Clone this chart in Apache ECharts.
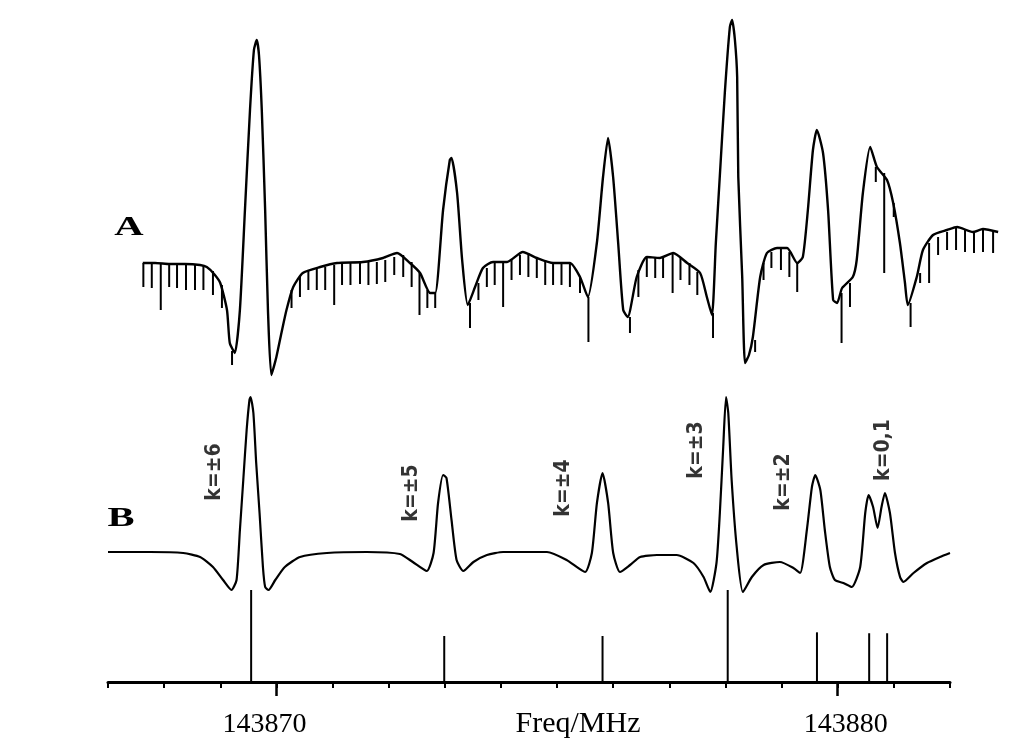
<!DOCTYPE html>
<html>
<head>
<meta charset="utf-8">
<script src="https://cdn.jsdelivr.net/npm/echarts@6/dist/echarts.min.js"></script>
<style>
  html, body { margin: 0; padding: 0; background: #fff; }
  #chart { width: 1024px; height: 754px; }
</style>
</head>
<body>
<div id="chart"></div>
<script>
    // trace A (measured)
    var aFreq = [143867.62, 143867.84, 143868.10, 143868.37, 143868.64, 143868.76, 143868.89, 143869.00, 143869.12, 143869.17,
        143869.26, 143869.35, 143869.44, 143869.53, 143869.60, 143869.65, 143869.69, 143869.74, 143869.80, 143869.85,
        143869.91, 143870.00, 143870.09, 143870.18, 143870.30, 143870.47, 143870.78, 143871.08, 143871.54, 143871.90,
        143872.15, 143872.38, 143872.56, 143872.74, 143872.83, 143872.97, 143873.09, 143873.12, 143873.22, 143873.31,
        143873.41, 143873.54, 143873.68, 143873.86, 143874.11, 143874.39, 143874.64, 143874.93, 143875.23, 143875.41,
        143875.55, 143875.71, 143875.82, 143875.91, 143876.00, 143876.09, 143876.18, 143876.26, 143876.42, 143876.60,
        143876.83, 143877.07, 143877.32, 143877.55, 143877.67, 143877.76, 143877.83, 143877.90, 143877.99, 143878.08,
        143878.12, 143878.17, 143878.21, 143878.23, 143878.30, 143878.35, 143878.42, 143878.49, 143878.62, 143878.74,
        143878.92, 143879.10, 143879.28, 143879.38, 143879.47, 143879.56, 143879.63, 143879.74, 143879.83, 143879.92,
        143879.99, 143880.08, 143880.27, 143880.34, 143880.45, 143880.58, 143880.70, 143880.88, 143880.99, 143881.11,
        143881.20, 143881.25, 143881.41, 143881.52, 143881.70, 143881.95, 143882.13, 143882.41, 143882.59, 143882.86];
    var aInt = [0, 0, -1, -1, -2, -4, -11, -20, -47, -80,
        -90, -47, 53, 153, 213, 223, 208, 153, 53, -47,
        -112, -94, -70, -47, -24, -10, -4, 0, 1, 5,
        10, 0, -10, -30, -30, 53, 103, 105, 70, 3,
        -42, -24, -5, 1, 1, 11, 5, 0, 0, -14,
        -34, 20, 86, 125, 86, 20, -47, -54, -14, 6,
        5, 10, 0, -10, -34, -52, 20, 86, 170, 236,
        243, 223, 186, 86, -14, -100, -92, -74, -14, 10,
        15, 15, 0, 6, 53, 113, 133, 110, 53, -37,
        -40, -25, -14, 3, 70, 116, 96, 83, 60, 20,
        -20, -42, -14, 13, 28, 33, 36, 31, 34, 31];

    // the vertical noise spikes hanging from trace A
    var hairFreq = [143867.63, 143867.78, 143867.94, 143868.09, 143868.23, 143868.39, 143868.55, 143868.70, 143868.87, 143869.03,
        143869.21, 143870.27, 143870.42, 143870.57, 143870.72, 143870.87, 143871.03, 143871.17, 143871.32, 143871.49,
        143871.64, 143871.79, 143871.94, 143872.10, 143872.26, 143872.41, 143872.55, 143872.69, 143872.83, 143873.45,
        143873.60, 143873.75, 143873.89, 143874.04, 143874.19, 143874.34, 143874.49, 143874.64, 143874.79, 143874.93,
        143875.08, 143875.23, 143875.41, 143875.56, 143876.30, 143876.45, 143876.60, 143876.75, 143876.89, 143877.06,
        143877.20, 143877.36, 143877.50, 143877.78, 143878.53, 143878.68, 143878.82, 143878.99, 143879.14, 143879.28,
        143880.07, 143880.22, 143880.68, 143880.83, 143881.00, 143881.30, 143881.47, 143881.63, 143881.79, 143881.95,
        143882.11, 143882.27, 143882.43, 143882.59, 143882.77];
    var hairTop = [0, 0, 0, 0, 0, -1, -1, -2, -8, -22,
        -88, -27, -14, -7, -5, -4, -2, -1, 0, 0,
        1, 1, 3, 6, 8, 1, -10, -27, -30, -40,
        -20, -5, 0, 1, 3, 8, 10, 6, 3, 0,
        0, 0, -14, -34, -54, -7, 5, 6, 5, 10,
        5, 0, -9, -50, -77, 0, 11, 15, 11, 0,
        -30, -20, 96, 90, 60, -40, -10, 20, 26, 31,
        35, 33, 31, 34, 33];
    var hairBottom = [-24, -25, -47, -24, -25, -27, -27, -27, -32, -45,
        -102, -45, -34, -27, -27, -27, -42, -22, -22, -21,
        -22, -21, -19, -12, -14, -24, -52, -45, -45, -65,
        -37, -24, -22, -44, -17, -12, -14, -15, -22, -22,
        -22, -24, -30, -79, -70, -34, -14, -15, -15, -30,
        -17, -22, -32, -75, -89, -17, -5, -7, -14, -29,
        -80, -44, 81, -10, 46, -64, -20, -20, 8, 13,
        13, 11, 10, 11, 10];

    // trace B (simulated)
    var bFreq = [143867.00, 143867.75, 143868.34, 143868.64, 143868.87, 143869.05, 143869.20, 143869.29, 143869.35, 143869.41,
        143869.47, 143869.52, 143869.54, 143869.59, 143869.64, 143869.70, 143869.76, 143869.80, 143869.86, 143869.98,
        143870.15, 143870.42, 143870.90, 143871.61, 143872.20, 143872.43, 143872.68, 143872.80, 143872.88, 143872.97,
        143873.03, 143873.12, 143873.21, 143873.33, 143873.51, 143873.75, 143874.04, 143874.82, 143875.17, 143875.50,
        143875.62, 143875.71, 143875.81, 143875.91, 143876.00, 143876.12, 143876.30, 143876.48, 143876.78, 143877.13,
        143877.43, 143877.61, 143877.73, 143877.84, 143877.90, 143877.96, 143878.01, 143878.05, 143878.11, 143878.20,
        143878.31, 143878.47, 143878.68, 143878.97, 143879.21, 143879.33, 143879.45, 143879.54, 143879.60, 143879.69,
        143879.77, 143879.86, 143879.95, 143880.10, 143880.25, 143880.40, 143880.49, 143880.55, 143880.63, 143880.71,
        143880.78, 143880.84, 143880.93, 143881.02, 143881.11, 143881.17, 143881.35, 143881.59, 143881.82, 143882.00];
    var bInt = [0, 0, -1, -5, -15, -28, -38, -28, 22, 72,
        122, 152, 155, 139, 89, 39, -15, -35, -38, -28,
        -15, -5, -1, 0, -2, -10, -19, -1, 49, 77,
        74, 32, -8, -19, -10, -3, 0, 0, -8, -20,
        -1, 49, 79, 49, -1, -20, -13, -5, -3, -3,
        -11, -25, -40, -11, 39, 105, 155, 139, 72, 5,
        -40, -25, -13, -10, -16, -21, 22, 65, 77, 62,
        22, -15, -28, -31, -35, -15, 39, 57, 45, 24,
        45, 59, 39, -1, -25, -30, -21, -11, -5, -1];

    // stick spectrum
    var stickFreq = [143869.55, 143872.99, 143875.81, 143878.04, 143879.63, 143880.56, 143880.88];
    var stickInt = [100, 50, 50, 100, 54, 53, 53];

    // k assignments
    var kLabels = ['k=±6', 'k=±5', 'k=±4', 'k=±3', 'k=±2', 'k=0,1'];
    var kFreq = [143868.89, 143872.40, 143875.12, 143877.49, 143879.03, 143880.81];
    var kInt = [80, 59, 64, 102, 70, 102];

    var tickLabels = [143870, 143880];

    function pairs(xs, ys) {
        return xs.map(function (x, i) { return [x, ys[i]]; });
    }

    var black = '#000';
    var serif = '"Liberation Serif", "Times New Roman", serif';
    var myChart = echarts.init(document.getElementById('chart'));

    option = {
        backgroundColor: '#fff',
        animation: false,
        grid: [
            {left: 108, top: 15, width: 898, height: 365, outerBoundsMode: 'none'},
            {left: 108, top: 380, width: 842, height: 220, outerBoundsMode: 'none'},
            {left: 108, top: 590, width: 842, height: 92, outerBoundsMode: 'none'}
        ],
        xAxis: [
            {gridIndex: 0, type: 'value', min: 143867, max: 143883, show: false},
            {gridIndex: 1, type: 'value', min: 143867, max: 143882, show: false},
            {
                gridIndex: 2, type: 'value', min: 143867, max: 143882, interval: 1,
                position: 'bottom', offset: 0,
                axisLine: {onZero: false, lineStyle: {color: black, width: 3}},
                axisTick: {length: 6, lineStyle: {color: black, width: 2}},
                axisLabel: {show: false},
                splitLine: {show: false}
            },
            {
                gridIndex: 2, type: 'value', min: 143867, max: 143882,
                position: 'bottom', offset: 0,
                axisLine: {show: false, onZero: false},
                axisTick: {customValues: tickLabels, length: 14, lineStyle: {color: black, width: 2.5}},
                axisLabel: {
                    customValues: tickLabels,
                    margin: 29,
                    formatter: function (v) {
                        return v === tickLabels[0] ? '{l|' + v + '}' : '{r|' + v + '}';
                    },
                    rich: {
                        l: {fontSize: 28, fontFamily: serif, color: black, padding: [0, 24, 0, 0]},
                        r: {fontSize: 28, fontFamily: serif, color: black, padding: [0, 0, 0, 16]}
                    }
                },
                splitLine: {show: false},
                name: 'Freq/MHz',
                nameLocation: 'middle',
                nameGap: 27,
                nameMoveOverlap: false,
                nameTextStyle: {fontSize: 30, fontFamily: serif, color: black, padding: [0, 0, 0, 98]}
            }
        ],
        yAxis: [
            {gridIndex: 0, type: 'value', min: -117, max: 248, show: false},
            {gridIndex: 1, type: 'value', min: -48, max: 172, show: false},
            {gridIndex: 2, type: 'value', min: 0, max: 100, show: false}
        ],
        graphic: [
            {type: 'text', x: 129, y: 228, scaleX: 1.45,
                style: {text: 'A', fill: black, font: 'bold 28px "Liberation Serif"', align: 'center', verticalAlign: 'middle'}},
            {type: 'text', x: 121, y: 519, scaleX: 1.45,
                style: {text: 'B', fill: black, font: 'bold 28px "Liberation Serif"', align: 'center', verticalAlign: 'middle'}}
        ],
        series: [
            {
                type: 'custom', xAxisIndex: 0, yAxisIndex: 0,
                encode: {x: 0, y: [1, 2]},
                data: hairFreq.map(function (f, i) { return [f, hairTop[i], hairBottom[i]]; }),
                renderItem: function (params, api) {
                    var p1 = api.coord([api.value(0), api.value(1)]);
                    var p2 = api.coord([api.value(0), api.value(2)]);
                    return {type: 'line', shape: {x1: p1[0], y1: p1[1], x2: p2[0], y2: p2[1]},
                        style: {stroke: black, lineWidth: 2}};
                }
            },
            {
                type: 'line', xAxisIndex: 0, yAxisIndex: 0,
                data: pairs(aFreq, aInt),
                showSymbol: false, smooth: 0.2,
                lineStyle: {color: black, width: 2.4}
            },
            {
                type: 'line', xAxisIndex: 1, yAxisIndex: 1,
                data: pairs(bFreq, bInt),
                showSymbol: false, smooth: 0.2,
                lineStyle: {color: black, width: 2.2}
            },
            {
                type: 'bar', xAxisIndex: 2, yAxisIndex: 2,
                data: pairs(stickFreq, stickInt),
                barWidth: 2,
                itemStyle: {color: black}
            },
            {
                type: 'scatter', xAxisIndex: 1, yAxisIndex: 1,
                data: pairs(kFreq, kInt),
                symbolSize: 1,
                itemStyle: {color: 'rgba(0,0,0,0)'},
                label: {
                    show: true, position: 'inside', rotate: 90,
                    formatter: function (p) { return kLabels[p.dataIndex]; },
                    fontSize: 21, fontWeight: 'bold', color: black,
                    textBorderWidth: 0,
                    fontFamily: '"DejaVu Sans Condensed", "DejaVu Sans", sans-serif'
                }
            }
        ]
    };

    myChart.setOption(option);
</script>
</body>
</html>
